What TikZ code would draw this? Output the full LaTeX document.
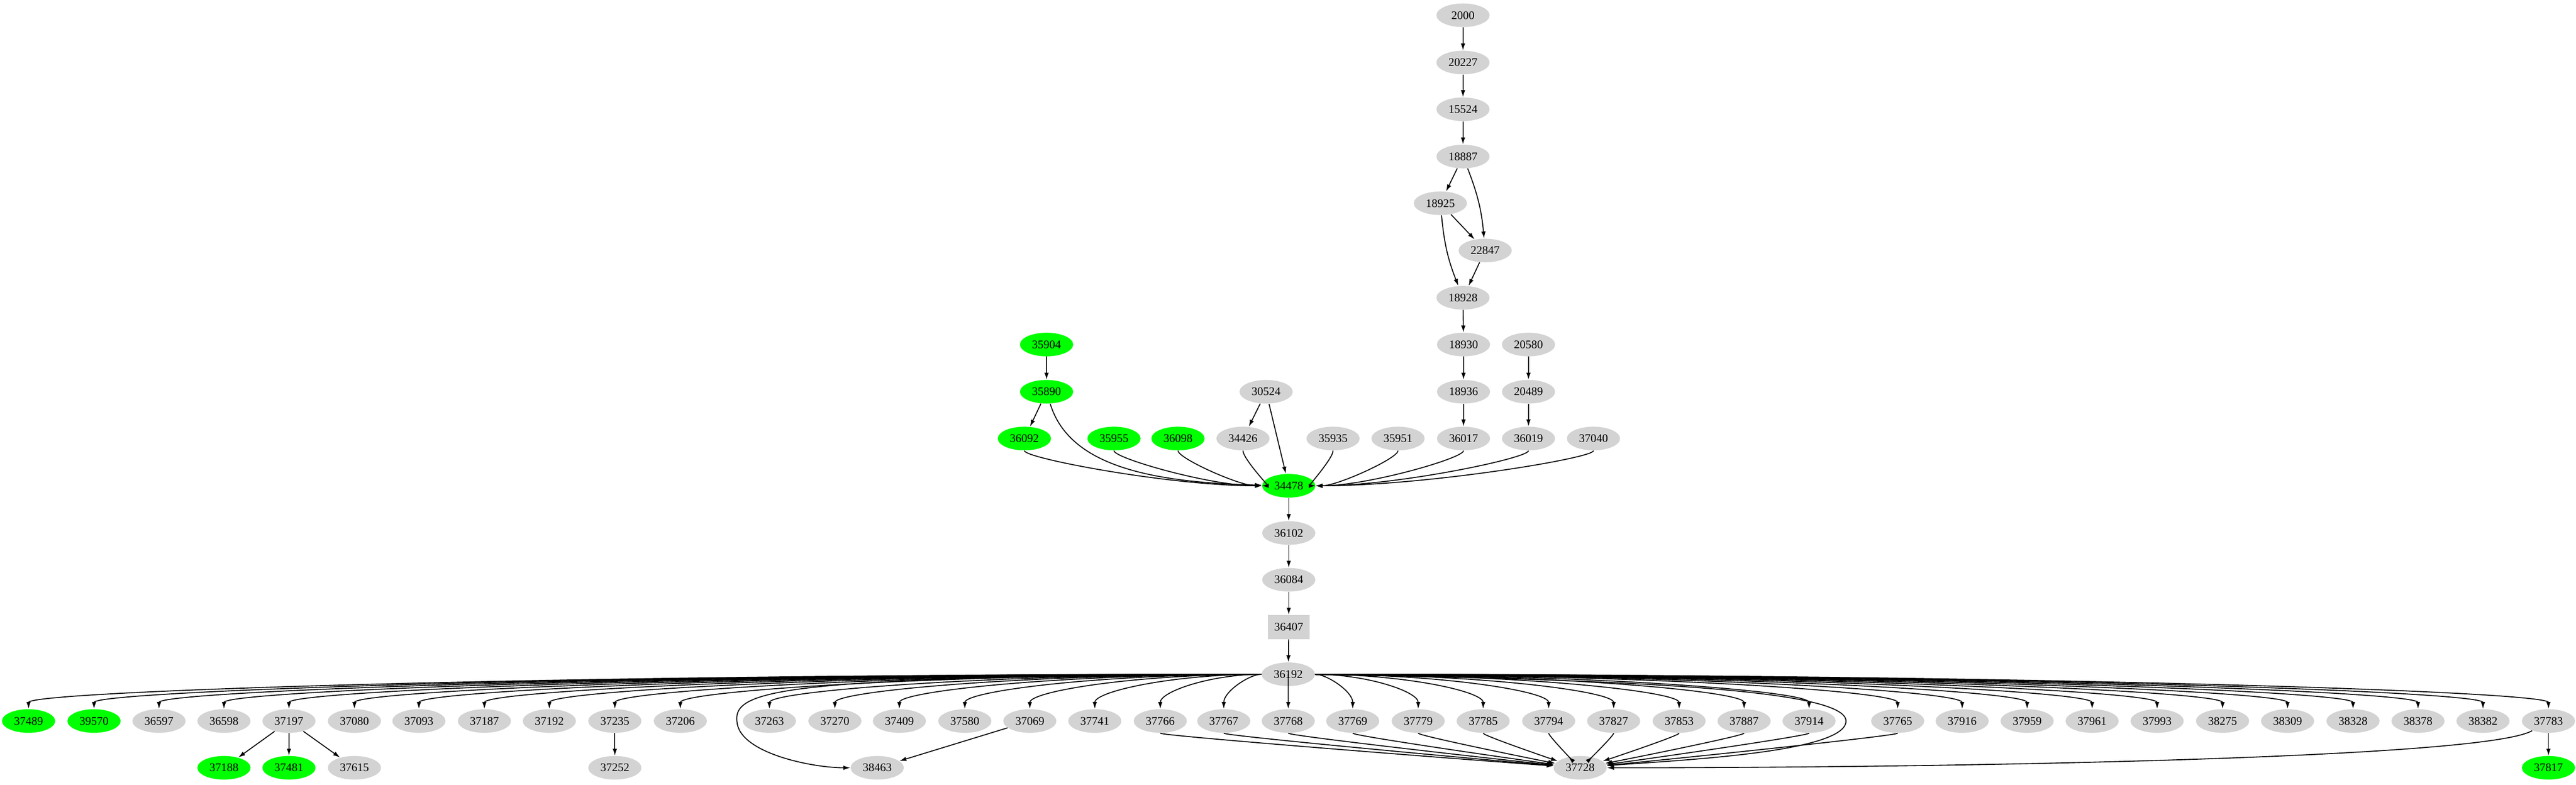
\documentclass[tikz,border=0pt]{standalone}
\usepackage{fontspec}
\setmainfont{Liberation Serif}
\usetikzlibrary{shapes.geometric,arrows.meta,calc}
\definecolor{nodegrey}{RGB}{211,211,211}
\definecolor{nodegreen}{RGB}{0,255,0}
\tikzset{
  vertex/.style={ellipse, fill=nodegrey, minimum width=1.08cm, minimum height=0.48cm, inner sep=0pt, font=\fontsize{6.7}{7}\selectfont},
  hit/.style={vertex, fill=nodegreen},
  boxvertex/.style={vertex, rectangle, minimum width=0.84cm, minimum height=0.49cm},
  edge/.style={-{Latex[length=1.4mm,width=0.9mm]}, line width=0.55pt},
}
\begin{document}
\begin{tikzpicture}
\useasboundingbox (0,0) rectangle (52.33,-15.95);

% chain at the top
\foreach \n/\x/\y in {2000/29.72/0.31, 20227/29.72/1.27, 15524/29.72/2.22, 18887/29.72/3.18,
    18925/29.26/4.13, 22847/30.17/5.09, 18928/29.72/6.05, 18930/29.73/7.00, 20580/31.05/7.00,
    18936/29.73/7.96, 20489/31.05/7.96, 30524/25.72/7.96,
    34426/25.25/8.91, 35935/27.08/8.91, 35951/28.40/8.91, 36017/29.73/8.91, 36019/31.05/8.91, 37040/32.37/8.91,
    36102/26.18/10.83, 36084/26.18/11.78, 36192/26.17/13.70}
  \node[vertex] (n\n) at (\x,-\y) {\n};
\foreach \n/\x/\y in {35904/21.26/7.00, 35890/21.26/7.96, 36092/20.81/8.91, 35955/22.63/8.91,
    36098/23.93/8.91, 34478/26.18/9.87}
  \node[hit] (n\n) at (\x,-\y) {\n};
\node[boxvertex] (n36407) at (26.18,-12.74) {36407};

\draw[edge] (n2000) -- (n20227);
\draw[edge] (n20227) -- (n15524);
\draw[edge] (n15524) -- (n18887);
\draw[edge] (n18887) -- (n18925);
\draw[edge] (n18887) to[bend left=8] (n22847);
\draw[edge] (n18925) -- (n22847);
\draw[edge] (n18925) to[bend right=8] (n18928);
\draw[edge] (n22847) -- (n18928);
\draw[edge] (n18928) -- (n18930);
\draw[edge] (n18930) -- (n18936);
\draw[edge] (n18936) -- (n36017);
\draw[edge] (n20580) -- (n20489);
\draw[edge] (n20489) -- (n36019);
\draw[edge] (n35904) -- (n35890);
\draw[edge] (n35890) -- (n36092);
\draw[edge] (n30524) -- (n34426);
\draw[edge] (n30524) -- (n34478);
\draw[edge] (n35890) .. controls (21.7,-9.4) and (23.2,-9.8) .. (n34478);

% everything into 34478
\foreach \s in {36092,35955,36098,34426,35935,35951,36017,36019,37040}
  \draw[edge] (n\s) .. controls ($(n\s)+(0,-0.4)$) and ($(n34478)!0.45!(n34478-|n\s)$) .. (n34478);

\draw[edge] (n34478) -- (n36102);
\draw[edge] (n36102) -- (n36084);
\draw[edge] (n36084) -- (n36407);
\draw[edge] (n36407) -- (n36192);

% second row under 36192
\foreach \n/\x in {36597/3.23, 36598/4.55, 37197/5.87, 37080/7.20, 37093/8.51, 37187/9.84,
    37192/11.16, 37235/12.49, 37206/13.82, 37263/15.63, 37270/16.96, 37409/18.27, 37580/19.60,
    37069/20.92, 37741/22.24, 37766/23.57, 37767/24.86, 37768/26.17, 37769/27.48, 37779/28.81,
    37785/30.13, 37794/31.46, 37827/32.78, 37853/34.11, 37887/35.43, 37914/36.75, 37765/38.55,
    37916/39.86, 37959/41.18, 37961/42.50, 37993/43.82, 38275/45.15, 38309/46.47, 38328/47.80,
    38378/49.12, 38382/50.44, 37783/51.77}
  \node[vertex] (n\n) at (\x,-14.65) {\n};
\foreach \n/\x in {37489/0.58, 39570/1.91}
  \node[hit] (n\n) at (\x,-14.65) {\n};

\foreach \t in {37489,39570,36597,36598,37197,37080,37093,37187,37192,37235,37206,37263,37270,
    37409,37580,37069,37741,37766,37767,37768,37769,37779,37785,37794,37827,37853,37887,37914,
    37765,37916,37959,37961,37993,38275,38309,38328,38378,38382,37783}
  \draw[edge] (n36192) .. controls ($(n36192)!0.6!(n36192-|n\t)$) and ($(n\t)+(0,0.6)$) .. (n\t);

% bottom row
\foreach \n/\x in {37615/7.20, 37252/12.49, 38463/17.82, 37728/32.10}
  \node[vertex] (n\n) at (\x,-15.60) {\n};
\foreach \n/\x in {37188/4.55, 37481/5.87, 37817/51.77}
  \node[hit] (n\n) at (\x,-15.60) {\n};

\draw[edge] (n36192) .. controls (16,-13.75) and (14.9,-14.0) .. (14.97,-14.65)
  .. controls (15.0,-15.3) and (16.5,-15.6) .. (n38463);
\draw[edge] (n36192) .. controls (33,-13.8) and (37.5,-14.0) .. (37.50,-14.65)
  .. controls (37.5,-15.3) and (34,-15.45) .. (n37728);

\draw[edge] (n37197) -- (n37188);
\draw[edge] (n37197) -- (n37481);
\draw[edge] (n37197) -- (n37615);
\draw[edge] (n37235) -- (n37252);
\draw[edge] (n37069) -- (n38463);
\draw[edge] (n37783) -- (n37817);
\foreach \s in {37766,37767,37768,37769,37779,37785,37794,37827,37853,37887,37914,37765}
  \draw[edge] (n\s) .. controls ($(n\s)+(0,-0.3)$) and ($(n37728)!0.25!(n37728-|n\s)+(0,0.15)$) .. (n37728);
\draw[edge] (n37783) .. controls (50.5,-15.4) and (40,-15.6) .. (n37728);
\end{tikzpicture}
\end{document}
